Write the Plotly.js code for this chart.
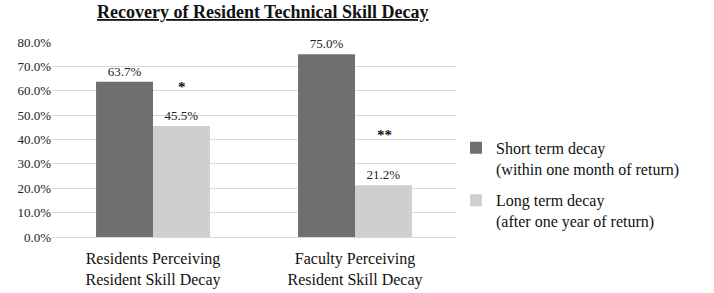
<!DOCTYPE html>
<html><head><meta charset="utf-8">
<script src="https://cdn.plot.ly/plotly-3.0.1.min.js"></script>
<style>body{margin:0;padding:0;background:#fff}#chart{width:714px;height:293px}</style>
</head><body><div id="chart"></div>
<script>
const categories = ["Residents Perceiving<br>Resident Skill Decay", "Faculty Perceiving<br>Resident Skill Decay"];
const seriesNames = ["Short term decay<br>(within one month of return)", "Long term decay<br>(after one year of return)"];
const shortTerm = [63.7, 75.0];
const longTerm = [45.5, 21.2];
const significance = ["*", "**"];
const colors = ["#6f6f6f", "#cfcfcf"];
const font = "Times New Roman, Liberation Serif, serif";

const traces = [shortTerm, longTerm].map((vals, i) => ({
  type: "bar",
  x: categories,
  y: vals,
  name: seriesNames[i],
  legendgroup: "g" + i,
  marker: {color: colors[i]},
  text: vals.map(v => v.toFixed(1) + "%"),
  textposition: "outside",
  cliponaxis: false,
  textfont: {family: font, size: 13, color: "#222"},
  hoverinfo: "none"
}));

const annotations = significance.map((s, i) => ({
  x: categories[i], y: longTerm[i], xref: "x", yref: "y",
  text: "<b>" + s + "</b>", showarrow: false, xshift: 29, yshift: i === 0 ? 39 : 50,
  font: {family: font, size: 15, color: "#111"}
}));

const layout = {
  width: 714, height: 293,
  margin: {l: 52, r: 258, t: 42, b: 56},
  paper_bgcolor: "#fff", plot_bgcolor: "#fff",
  font: {family: font, color: "#222"},
  title: {text: '<b><span style="text-decoration:underline">Recovery of Resident Technical Skill Decay</span></b>',
    font: {family: font, size: 18, color: "#111"}, x: 0.368, xanchor: "center", y: 0.96, yanchor: "middle"},
  barmode: "group", bargap: 0.436, bargroupgap: 0,
  xaxis: {showgrid: false, showline: false, zeroline: false, ticks: "", ticklabelstandoff: 10,
    tickfont: {family: font, size: 16, color: "#111"}},
  yaxis: {range: [0, 80], dtick: 10, tickformat: ".1f", ticksuffix: "%", showgrid: true, gridcolor: "#d9d9d9", gridwidth: 1,
    zeroline: true, zerolinecolor: "#d9d9d9", showline: false, ticks: "", tickfont: {family: font, size: 13, color: "#222"}},
  legend: {x: 1.0, xanchor: "left", y: 0.545, yanchor: "top", valign: "top", traceorder: "grouped", tracegroupgap: 8,
    font: {family: font, size: 16, color: "#111"}, bgcolor: "rgba(0,0,0,0)"},
  annotations: annotations,
  showlegend: true
};
Plotly.newPlot("chart", traces, layout, {displayModeBar: false, staticPlot: true});
</script></body></html>
